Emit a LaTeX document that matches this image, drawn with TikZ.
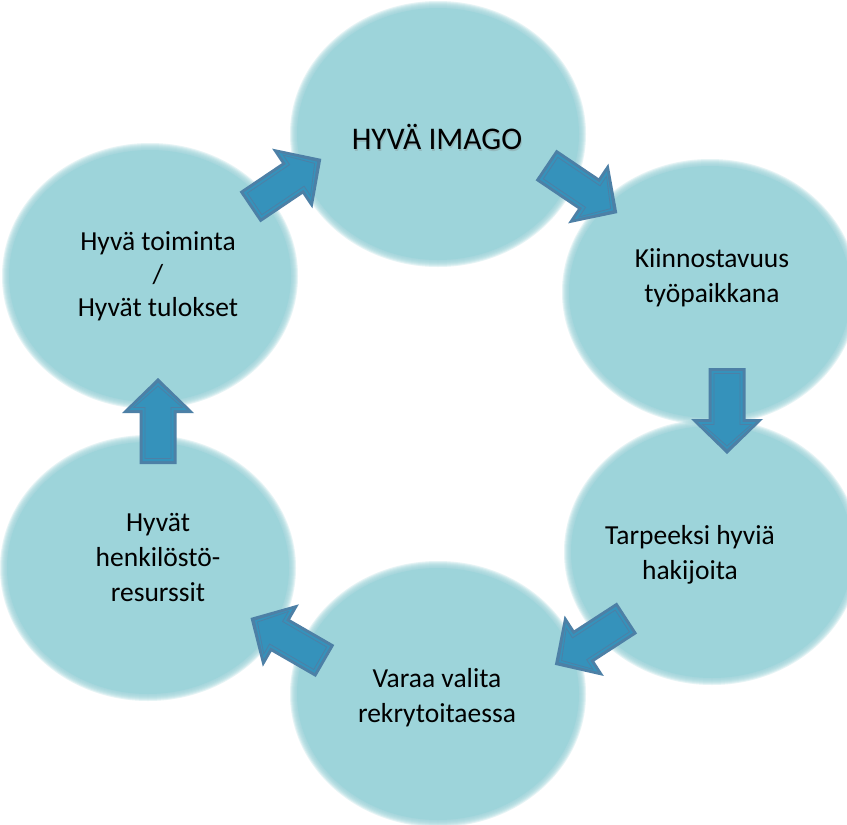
\documentclass[tikz,border=0pt]{standalone}
\usepackage{fontspec}
\setmainfont{Carlito}
\definecolor{circ}{HTML}{9DD4DA}
\definecolor{arrfill}{HTML}{3592BB}
\definecolor{arredge}{HTML}{4D80A6}
\tikzset{
  lbl/.style={font=\fontsize{27.5}{35}\selectfont, align=center, text=black, inner sep=0pt},
  blob/.pic={
    \foreach \k in {0,...,6}{
      \fill[circ, opacity=0.25] (0,0) ellipse ({(148-\k)*1pt} and {(133-\k)*1pt});
    }
    \fill[circ] (0,0) ellipse (141pt and 126pt);
  },
  barrow/.pic={
    \fill[arredge] (0,-18.5)--(51,-18.5)--(51,-36)--(86,0)--(51,36)--(51,18.5)--(0,18.5)--cycle;
    \fill[arrfill] (3,-15.5)--(54,-15.5)--(54,-29)--(81,0)--(54,29)--(54,15.5)--(3,15.5)--cycle;
    \draw[arredge, line width=0.8pt] (5.5,-13)--(56.5,-13)--(56.5,-24.5)--(78,0)--(56.5,24.5)--(56.5,13)--(5.5,13)--cycle;
    \fill[arrfill] (7,-11.5)--(58,-11.5)--(58,-21.5)--(76,0)--(58,21.5)--(58,11.5)--(7,11.5)--cycle;
  }
}
\begin{document}
\begin{tikzpicture}[x=1pt,y=-1pt]
\useasboundingbox[fill=white] (0,0) rectangle (847,825);
% circles
\coordinate (cT)  at (438,134);
\coordinate (cRU) at (710,292);
\coordinate (cRL) at (712,552);
\coordinate (cB)  at (438,694);
\coordinate (cLL) at (148,568);
\coordinate (cLU) at (150,276);
\foreach \c in {cT,cRU,cRL,cB,cLL,cLU}{ \pic at (\c) {blob}; }
% labels
\node[lbl, font=\fontsize{31.5}{36}\selectfont, text=black!50, opacity=0.3] at (438,138.5) {HYVÄ IMAGO};
\node[lbl, font=\fontsize{31.5}{36}\selectfont] (t1) at (437,137) {HYVÄ IMAGO};
\node[lbl] (t2) at (712,278) {Kiinnostavuus\\työpaikkana};
\node[lbl] (t3) at (690,555) {Tarpeeksi hyviä\\hakijoita};
\node[lbl] (t4) at (437,698) {Varaa valita\\rekrytoitaessa};
\node[lbl] (t5) at (158,557) {Hyvät\\henkilöstö-\\resurssit};
\node[lbl, font=\fontsize{27.5}{33}\selectfont] (t6) at (158,276) {Hyvä toiminta\\/\\Hyvät tulokset};
% arrows
\coordinate (a1) at (250,207);
\coordinate (a2) at (546,165);
\coordinate (a3) at (727,368);
\coordinate (a4) at (627,618);
\coordinate (a5) at (325,661);
\coordinate (a6) at (158,464);
\pic[rotate=34]  at (a1) {barrow};
\pic[rotate=-34] at (a2) {barrow};
\pic[rotate=-90] at (a3) {barrow};
\pic[rotate=-147] at (a4) {barrow};
\pic[rotate=150] at (a5) {barrow};
\pic[rotate=90]  at (a6) {barrow};
\end{tikzpicture}
\end{document}
